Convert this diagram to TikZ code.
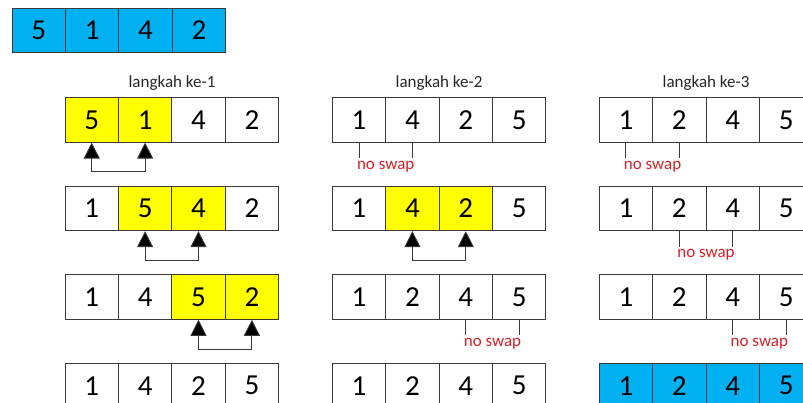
\documentclass[tikz,border=0pt]{standalone}
\usepackage{fontspec}
\setmainfont{Carlito}
\usetikzlibrary{arrows.meta}
\definecolor{cellblue}{HTML}{00B0F0}
\definecolor{cellyel}{HTML}{FFFF00}
\definecolor{swapred}{HTML}{D92027}
\definecolor{linegray}{HTML}{3A3A3A}
\tikzset{
  cell/.style={draw=linegray, line width=0.9pt, minimum width=53.4pt, minimum height=44.4pt,
    inner sep=0pt, font=\fontsize{29}{29}\selectfont, text=black},
  steplabel/.style={font=\fontsize{17}{17}\selectfont, text=black!85, inner sep=0pt},
  swaplabel/.style={font=\fontsize{17}{17}\selectfont, text=swapred, inner sep=0pt},
  swaparr/.style={draw=linegray, line width=0.9pt,
    {Triangle[length=16pt,width=16pt,fill=black]}-{Triangle[length=16pt,width=16pt,fill=black]}},
  tick/.style={draw=linegray, line width=0.9pt}
}
\newcommand\cellrow[4]{%
  \foreach \d/\f [count=\i] in {#4}
    \node[cell, fill=\f] (#1-\i) at ({#2+(\i-0.5)*53.4},{#3+22.2}) {\d};
}
\newcommand\swapmark[3]{% name, a, b
  \draw[swaparr] (#1-#2.south) -- ++(0,29.4) -| (#1-#3.south);
}
\newcommand\noswap[3]{%
  \draw[tick] (#1-#2.south) -- ++(0,15.6);
  \draw[tick] (#1-#3.south) -- ++(0,15.6);
  \path (#1-#2.south) -- (#1-#3.south) node[swaplabel, midway, yshift=-24pt] (#1-ns) {no swap};
}
\begin{document}
\begin{tikzpicture}[x=1pt,y=-1pt]
\clip (0,0) rectangle (803,403);
\useasboundingbox (0,0) rectangle (803,403);
% initial array
\cellrow{init}{12}{8}{5/cellblue,1/cellblue,4/cellblue,2/cellblue}
% step labels
\node[steplabel] (lab1) at (172,83) {langkah ke-1};
\node[steplabel] (lab2) at (439,83) {langkah ke-2};
\node[steplabel] (lab3) at (706,83) {langkah ke-3};
% column 1
\cellrow{a1}{65}{97.7}{5/cellyel,1/cellyel,4/white,2/white}
\cellrow{a2}{65}{186.3}{1/white,5/cellyel,4/cellyel,2/white}
\cellrow{a3}{65}{274.9}{1/white,4/white,5/cellyel,2/cellyel}
\cellrow{a4}{65}{363.5}{1/white,4/white,2/white,5/white}
\swapmark{a1}{1}{2}
\swapmark{a2}{2}{3}
\swapmark{a3}{3}{4}
% column 2
\cellrow{b1}{332.3}{97.7}{1/white,4/white,2/white,5/white}
\cellrow{b2}{332.3}{186.3}{1/white,4/cellyel,2/cellyel,5/white}
\cellrow{b3}{332.3}{274.9}{1/white,2/white,4/white,5/white}
\cellrow{b4}{332.3}{363.5}{1/white,2/white,4/white,5/white}
\noswap{b1}{1}{2}
\swapmark{b2}{2}{3}
\noswap{b3}{3}{4}
% column 3
\cellrow{c1}{599.2}{97.7}{1/white,2/white,4/white,5/white}
\cellrow{c2}{599.2}{186.3}{1/white,2/white,4/white,5/white}
\cellrow{c3}{599.2}{274.9}{1/white,2/white,4/white,5/white}
\cellrow{c4}{599.2}{363.5}{1/cellblue,2/cellblue,4/cellblue,5/cellblue}
\noswap{c1}{1}{2}
\noswap{c2}{2}{3}
\noswap{c3}{3}{4}
\end{tikzpicture}
\end{document}
